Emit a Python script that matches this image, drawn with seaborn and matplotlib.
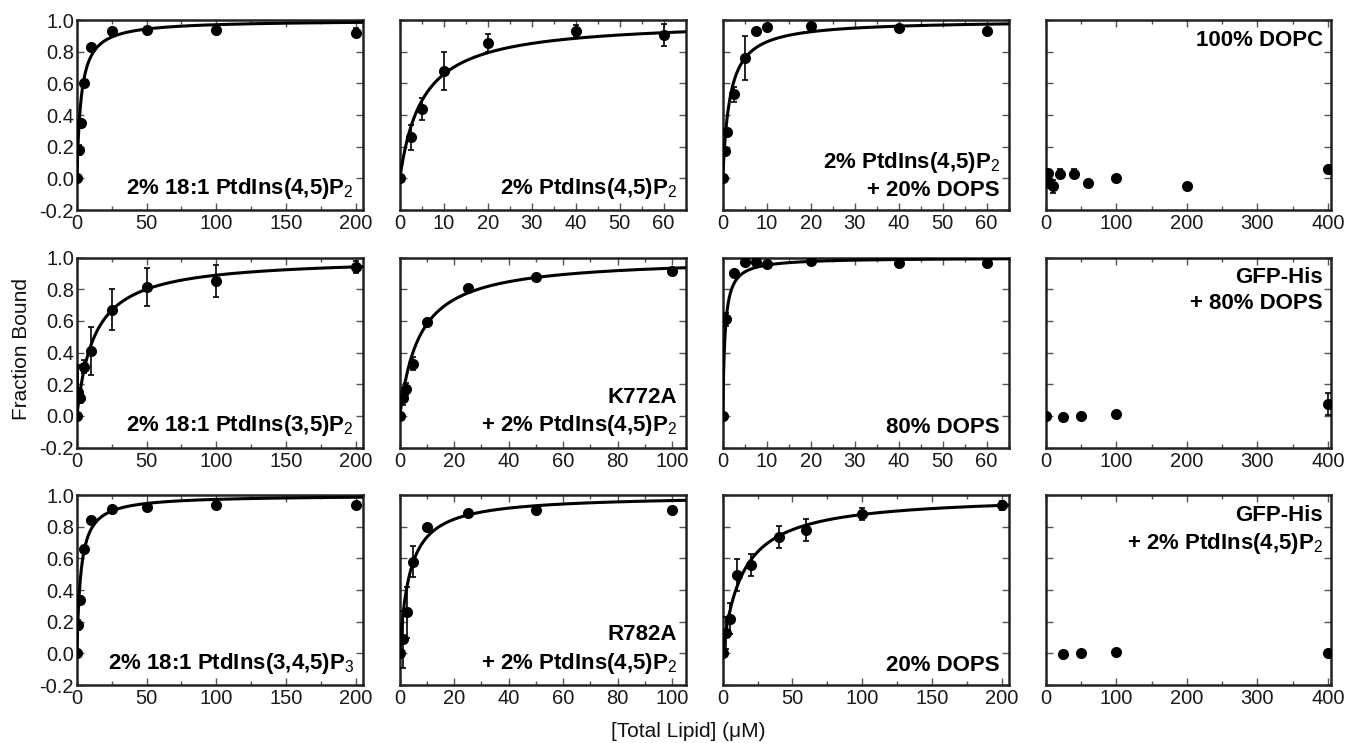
import numpy as np
import matplotlib
matplotlib.use("Agg")
import matplotlib.pyplot as plt
import seaborn as sns
from matplotlib.ticker import MultipleLocator

sns.set_theme(style="ticks")
plt.rcParams['font.family'] = ['Liberation Sans', 'DejaVu Sans']
plt.rcParams['mathtext.fontset'] = 'custom'
plt.rcParams['mathtext.rm'] = 'Liberation Sans'
plt.rcParams['mathtext.bf'] = 'Liberation Sans:bold'
plt.rcParams['text.color'] = '#111111'

# ---------------- data ----------------
labels = [
    r"2% 18:1 PtdIns(4,5)P$_2$", r"2% PtdIns(4,5)P$_2$", "2% PtdIns(4,5)P$_2$\n+ 20% DOPS", "100% DOPC",
    r"2% 18:1 PtdIns(3,5)P$_2$", "K772A\n+ 2% PtdIns(4,5)P$_2$", "80% DOPS", "GFP-His\n+ 80% DOPS",
    r"2% 18:1 PtdIns(3,4,5)P$_3$", "R782A\n+ 2% PtdIns(4,5)P$_2$", "20% DOPS", "GFP-His\n+ 2% PtdIns(4,5)P$_2$",
]

x_p1 = [0, 1.2, 2.6, 5, 10, 25, 50, 100, 200]
y_p1 = [0, 0.18, 0.35, 0.60, 0.83, 0.93, 0.94, 0.94, 0.92]
e_p1 = [0, 0.03, 0.02, 0.02, 0.01, 0.01, 0.01, 0.01, 0.03]

x_p2 = [0, 2.5, 5, 10, 20, 40, 60]
y_p2 = [0, 0.26, 0.44, 0.68, 0.855, 0.93, 0.905]
e_p2 = [0, 0.08, 0.07, 0.12, 0.055, 0.04, 0.07]

x_p3 = [0, 0.5, 1, 2.5, 5, 7.5, 10, 20, 40, 60]
y_p3 = [0, 0.17, 0.29, 0.53, 0.76, 0.93, 0.955, 0.96, 0.95, 0.93]
e_p3 = [0, 0.02, 0.02, 0.05, 0.14, 0.01, 0.01, 0.01, 0.01, 0.01]

x_p4 = [0, 3, 5, 10, 20, 40, 60, 100, 200, 400]
y_p4 = [0, 0.035, -0.03, -0.05, 0.03, 0.03, -0.03, 0.0, -0.05, 0.06]
e_p4 = [0, 0.01, 0.02, 0.04, 0.03, 0.03, 0.01, 0.01, 0.01, 0.01]

x_p5 = [0, 1, 2.5, 5, 10, 25, 50, 100, 200]
y_p5 = [0, 0.15, 0.11, 0.31, 0.41, 0.67, 0.815, 0.85, 0.94]
e_p5 = [0, 0.17, 0.03, 0.04, 0.15, 0.13, 0.12, 0.10, 0.04]

x_p6 = [0, 1, 2.2, 5, 10, 25, 50, 100]
y_p6 = [0, 0.11, 0.17, 0.33, 0.59, 0.81, 0.875, 0.915]
e_p6 = [0, 0.04, 0.04, 0.04, 0.02, 0.01, 0.01, 0.01]

x_p7 = [0, 0.75, 2.5, 5, 7.5, 10, 20, 40, 60]
y_p7 = [0, 0.61, 0.90, 0.97, 0.975, 0.96, 0.98, 0.965, 0.965]
e_p7 = [0, 0.04, 0.02, 0.01, 0.01, 0.01, 0.01, 0.01, 0.01]

x_p8 = [0, 25, 50, 100, 400]
y_p8 = [0, -0.01, 0.0, 0.01, 0.075]
e_p8 = [0, 0.0, 0.0, 0.0, 0.07]

x_p9 = [0, 1, 2.5, 5, 10, 25, 50, 100, 200]
y_p9 = [0, 0.18, 0.34, 0.66, 0.84, 0.915, 0.925, 0.935, 0.935]
e_p9 = [0, 0.03, 0.02, 0.02, 0.01, 0.01, 0.01, 0.01, 0.01]

x_p10 = [0, 1, 2.5, 5, 10, 25, 50, 100]
y_p10 = [0, 0.09, 0.26, 0.58, 0.80, 0.885, 0.905, 0.905]
e_p10 = [0, 0.18, 0.16, 0.10, 0.01, 0.01, 0.01, 0.01]

x_p11 = [0, 2.5, 5, 10, 20, 40, 60, 100, 200]
y_p11 = [0, 0.13, 0.22, 0.495, 0.56, 0.735, 0.78, 0.88, 0.935]
e_p11 = [0, 0.10, 0.10, 0.10, 0.07, 0.07, 0.07, 0.04, 0.03]

x_p12 = [25, 50, 100, 400]
y_p12 = [-0.005, 0.0, 0.01, 0.0]
e_p12 = [0, 0, 0, 0]

# fitted apparent Kd (uM) of the hyperbolic binding fit; None = no fit drawn
fit_kd = [3.0, 5.2, 1.6, None, 12.5, 7.2, 0.5, None, 2.8, 3.6, 14.0, None]

# x-axis ranges / tick spacing per panel
x_max = [205, 65, 65, 405, 205, 105, 65, 405, 205, 105, 205, 405]
x_major = [50, 10, 10, 100, 50, 20, 10, 100, 50, 20, 50, 100]

xs_all = [x_p1, x_p2, x_p3, x_p4, x_p5, x_p6, x_p7, x_p8, x_p9, x_p10, x_p11, x_p12]
ys_all = [y_p1, y_p2, y_p3, y_p4, y_p5, y_p6, y_p7, y_p8, y_p9, y_p10, y_p11, y_p12]
es_all = [e_p1, e_p2, e_p3, e_p4, e_p5, e_p6, e_p7, e_p8, e_p9, e_p10, e_p11, e_p12]

# ---------------- figure ----------------
fig, axes = plt.subplots(3, 4, figsize=(13.49, 7.43), dpi=100)
fig.subplots_adjust(left=0.057, right=0.987, top=0.973, bottom=0.078,
                    wspace=0.13, hspace=0.25)

for i, ax in enumerate(axes.flat):
    xv, yv, ev = xs_all[i], ys_all[i], es_all[i]
    ax.errorbar(xv, yv, yerr=ev, fmt='none', ecolor='black', elinewidth=1.2,
                capsize=2.5, capthick=1.2, zorder=3)
    if fit_kd[i] is not None:
        xf = np.linspace(0, x_max[i], 800)
        yf = xf / (fit_kd[i] + xf)
        sns.lineplot(x=xf, y=yf, ax=ax, color='black', linewidth=2.2, zorder=4)
    sns.scatterplot(x=xv, y=yv, ax=ax, color='black', edgecolor='black',
                    s=64, linewidth=0, zorder=5)

    ax.set_xlim(0, x_max[i])
    ax.set_ylim(-0.2, 1.0)
    ax.xaxis.set_major_locator(MultipleLocator(x_major[i]))
    ax.xaxis.set_minor_locator(MultipleLocator(x_major[i] / 2))
    ax.yaxis.set_major_locator(MultipleLocator(0.2))
    ax.tick_params(which='both', direction='in', top=True, right=True,
                   labelsize=14.5, width=1.0, color='#555555', labelcolor='#1a1a1a')
    ax.tick_params(which='major', length=5)
    ax.tick_params(which='minor', length=3)
    ax.tick_params(axis='x', pad=3)
    ax.tick_params(axis='y', pad=2)
    for sp in ax.spines.values():
        sp.set_linewidth(1.8)
        sp.set_color('#222222')
    if i % 4 == 0:
        ax.set_yticklabels([f"{v:.1f}" for v in ax.get_yticks()])
    else:
        ax.set_yticklabels([])
    ax.set_ylim(-0.2, 1.0)

    if i % 4 == 3:
        ax.text(0.97, 0.95, labels[i], transform=ax.transAxes, ha='right', va='top',
                fontsize=16, fontweight='bold', linespacing=1.3, color='black')
    else:
        ax.text(0.97, 0.05, labels[i], transform=ax.transAxes, ha='right', va='bottom',
                fontsize=16, fontweight='bold', linespacing=1.3, color='black')

fig.text(0.016, 0.53, "Fraction Bound", rotation=90, ha='center', va='center', fontsize=15)
fig.text(0.51, 0.015, "[Total Lipid] (\u03bcM)", ha='center', va='center', fontsize=15)

fig.savefig("out.png", dpi=100)
